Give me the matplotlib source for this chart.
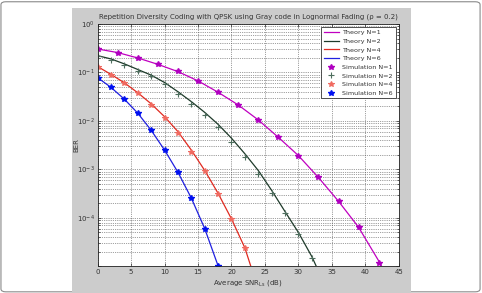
import matplotlib.pyplot as plt
from matplotlib.patches import Rectangle, FancyBboxPatch
from matplotlib.ticker import FixedLocator, NullFormatter

# simulation points (SNR in dB, BER)
snr_n1 = [0, 3, 6, 9, 12, 15, 18, 21, 24, 27, 30, 33, 36, 39, 42]
sim_n1 = [0.305, 0.257, 0.199, 0.147, 0.106, 0.067, 0.039, 0.0214, 0.0105,
          0.0046, 0.00193, 0.00068, 0.00022, 6.4e-5, 1.15e-5]
snr_n2 = [0, 2, 4, 6, 8, 10, 12, 14, 16, 18, 20, 22, 24, 26, 28, 30, 32]
sim_n2 = [0.222, 0.184, 0.145, 0.109, 0.083, 0.057, 0.0367, 0.0228, 0.0133,
          0.0074, 0.0037, 0.0018, 0.00081, 0.00032, 0.000125, 4.7e-5, 1.47e-5]
snr_n4 = [0, 2, 4, 6, 8, 10, 12, 14, 16, 18, 20, 22]
sim_n4 = [0.132, 0.090, 0.060, 0.037, 0.0217, 0.0115, 0.0056, 0.0023,
          0.00092, 0.00031, 9.5e-5, 2.36e-5]
snr_n6 = [0, 2, 4, 6, 8, 10, 12, 14, 16, 18]
sim_n6 = [0.078, 0.049, 0.028, 0.0144, 0.0064, 0.0025, 0.00087, 0.000255,
          6.0e-5, 1.02e-5]

# theory curves
th_snr_n1 = [0, 3, 6, 9, 12, 15, 18, 21, 24, 27, 30, 33, 36, 39, 42, 43]
th_n1 = [0.305, 0.257, 0.199, 0.147, 0.104, 0.067, 0.039, 0.0214, 0.0105,
         0.0046, 0.00193, 0.00068, 0.00022, 6.4e-5, 1.3e-5, 6.5e-6]
th_snr_n2 = [0, 2, 4, 6, 8, 10, 12, 14, 16, 18, 20, 22, 24, 26, 28, 30, 32, 33]
th_n2 = [0.222, 0.19, 0.15, 0.115, 0.088, 0.062, 0.040, 0.025, 0.0150,
         0.0085, 0.0044, 0.0021, 0.00095, 0.00037, 0.000135, 5.0e-5, 1.6e-5, 8e-6]
th_snr_n4 = [0, 2, 4, 6, 8, 10, 12, 14, 16, 18, 20, 22, 23]
th_n4 = [0.132, 0.091, 0.061, 0.038, 0.0225, 0.0122, 0.0060, 0.0025,
         0.00095, 0.00032, 9.5e-5, 2.4e-5, 9e-6]
th_snr_n6 = snr_n6
th_n6 = sim_n6

fig = plt.figure(figsize=(4.82, 2.93), dpi=100)
fig.patch.set_facecolor('white')
fig.patches.append(FancyBboxPatch((0.002, 0.004), 0.994, 0.99, boxstyle='round,pad=0,rounding_size=0.01',
                                  transform=fig.transFigure, facecolor='white',
                                  edgecolor='#8a8a8a', linewidth=0.8, zorder=-3))
fig.patches.append(Rectangle((72 / 482, 0), (411 - 72) / 482, 1 - 8 / 293,
                             transform=fig.transFigure, facecolor='#cccccc',
                             edgecolor='none', zorder=-2))

ax = fig.add_axes([97.7 / 482, 1 - 266.3 / 293, 301 / 482, 242.3 / 293])
ax.set_facecolor('white')

ax.semilogy(th_snr_n1, th_n1, color='#c000c0', lw=0.9, label='Theory N=1')
ax.semilogy(th_snr_n2, th_n2, color='#1e3a2a', lw=0.9, label='Theory N=2')
ax.semilogy(th_snr_n4, th_n4, color='#e02a20', lw=0.9, label='Theory N=4')
ax.semilogy(th_snr_n6, th_n6, color='#2020e0', lw=0.9, label='Theory N=6')
ax.semilogy(snr_n1, sim_n1, '*', color='#b000c0', ms=4, mew=1.0, label='Simulation N=1')
ax.semilogy(snr_n2, sim_n2, '+', color='#4e6e5e', ms=4, mew=0.8, label='Simulation N=2')
ax.semilogy(snr_n4, sim_n4, '*', color='#f06a60', ms=4, mew=0.8, label='Simulation N=4')
ax.semilogy(snr_n6, sim_n6, '*', color='#0010f0', ms=4, mew=1.0, label='Simulation N=6')

ax.set_xlim(0, 45)
ax.set_ylim(1e-5, 1)
ax.set_xticks(range(0, 46, 5))
ax.yaxis.set_major_locator(FixedLocator([1e-5, 1e-4, 1e-3, 1e-2, 1e-1, 1]))
ax.set_yticklabels(['', r'$10^{-4}$', r'$10^{-3}$', r'$10^{-2}$', r'$10^{-1}$', r'$10^{0}$'])
minors = [m * 10.0 ** e for e in range(-5, 0) for m in range(2, 10)]
ax.yaxis.set_minor_locator(FixedLocator(minors))
ax.yaxis.set_minor_formatter(NullFormatter())
ax.tick_params(which='both', direction='in', top=True, right=True, labelsize=5,
               length=2.5, width=0.5, colors='#333333', pad=2)
ax.tick_params(which='minor', length=1.5)
ax.grid(True, which='both', linestyle=':', color='#444444', linewidth=0.5)
for s in ax.spines.values():
    s.set_linewidth(0.6)
    s.set_color('#222222')

ax.set_title('Repetition Diversity Coding with QPSK using Gray code in Lognormal Fading (ρ = 0.2)',
             fontsize=5, color='#333333', pad=4)
ax.set_xlabel(r'Average SNR$_{\mathrm{Ls}}$ (dB)', fontsize=5, color='#333333', labelpad=2)
ax.set_ylabel('BER', fontsize=5, color='#333333')
ax.yaxis.set_label_coords(-0.062, 0.5)

leg = ax.legend(loc='upper right', fontsize=4.6, frameon=True, fancybox=False,
                edgecolor='#333333', framealpha=1, handlelength=2.4, handletextpad=0.5,
                borderaxespad=0.5, labelspacing=0.5, borderpad=0.4)
leg.get_frame().set_linewidth(0.6)
for t in leg.get_texts():
    t.set_color('#333333')

plt.savefig('out.png', dpi=100)
